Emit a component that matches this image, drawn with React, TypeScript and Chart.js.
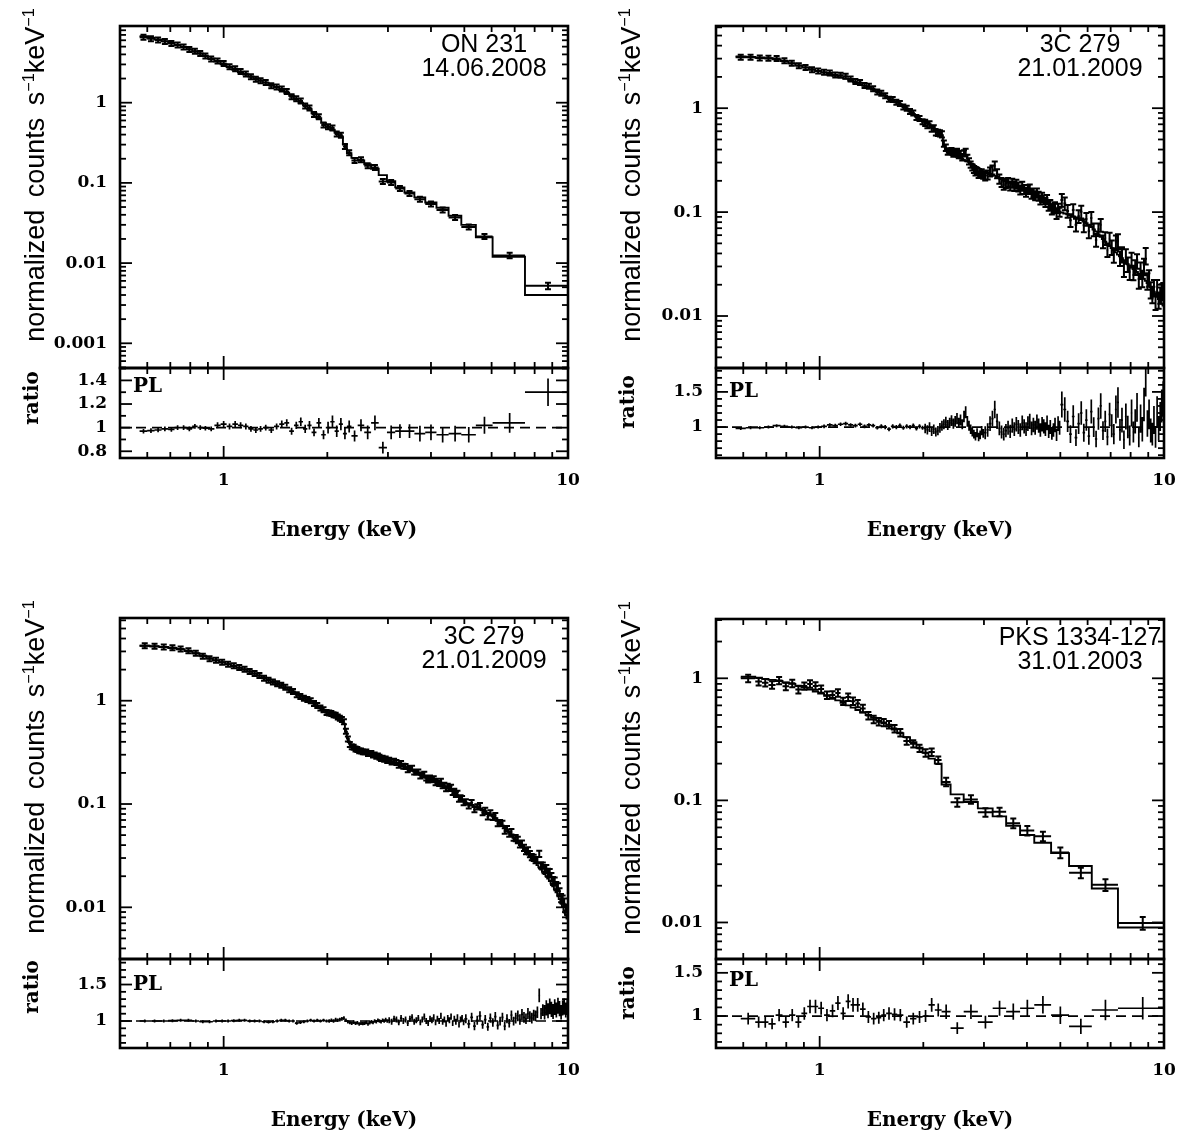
import React, { useEffect, useRef } from "react";
import { Chart, registerables } from "chart.js";

Chart.register(...registerables);

/* ---------------- shared energy axis ---------------- */
const energyMin = 0.5;
const energyMax = 10;
const energyMajorTicks = [1, 10];
const energyTickLabels = ["1", "10"];
const energyMinorTicks = [0.6, 0.7, 0.8, 0.9, 2, 3, 4, 5, 6, 7, 8, 9];

/* ---------------- ON 231, 14.06.2008 ---------------- */
const on231Edges = [0.57, 0.60, 0.63, 0.66, 0.69, 0.72, 0.75, 0.78, 0.81, 0.84, 0.87, 0.90, 0.94, 0.98, 1.02, 1.06, 1.10, 1.14, 1.18, 1.22, 1.26, 1.30, 1.35, 1.40, 1.45, 1.50, 1.55, 1.60, 1.65, 1.70, 1.75, 1.80, 1.86, 1.92, 1.98, 2.04, 2.10, 2.16, 2.22, 2.28, 2.35, 2.45, 2.56, 2.68, 2.82, 2.98, 3.15, 3.35, 3.58, 3.85, 4.15, 4.50, 4.90, 5.40, 6.04, 7.50, 10.0];
const on231Model = [6.75, 6.45, 6.15, 5.85, 5.55, 5.25, 4.95, 4.65, 4.35, 4.10, 3.85, 3.55, 3.25, 3.00, 2.78, 2.57, 2.40, 2.25, 2.12, 2.00, 1.90, 1.78, 1.66, 1.55, 1.44, 1.33, 1.22, 1.10, 1.00, 0.92, 0.84, 0.74, 0.64, 0.56, 0.50, 0.46, 0.42, 0.38, 0.30, 0.235, 0.205, 0.190, 0.170, 0.150, 0.125, 0.105, 0.088, 0.076, 0.066, 0.057, 0.049, 0.039, 0.030, 0.021, 0.012, 0.0040];
const on231Ratio = [0.97, 0.975, 0.98, 0.99, 0.985, 1.0, 1.0, 0.99, 1.01, 1.0, 0.995, 0.99, 1.02, 1.03, 1.01, 1.03, 1.02, 1.01, 0.99, 0.98, 0.99, 1.0, 0.98, 1.01, 1.03, 1.04, 0.97, 1.02, 1.05, 0.99, 1.02, 0.96, 1.04, 0.94, 1.0, 1.05, 0.97, 1.03, 0.95, 1.01, 0.93, 1.02, 0.96, 1.04, 0.83, 0.96, 0.97, 0.97, 0.95, 0.96, 0.94, 0.95, 0.94, 1.02, 1.04, 1.30];
const on231ErrPct = [2, 2, 2, 2, 2, 2, 2, 2, 2, 2, 2, 2, 2.5, 2.5, 2.5, 2.5, 2.5, 2.5, 2.5, 2.5, 2.5, 2.5, 2.5, 2.5, 3, 3, 3, 3, 3.5, 3.5, 3.5, 3.5, 4, 4, 5, 5, 5, 5, 5, 5, 5, 5, 6, 6, 6, 6, 6, 6, 7, 7, 7, 7, 7, 7, 8, 9];
const on231CountTicks = [0.001, 0.01, 0.1, 1];
const on231CountLabels = ["0.001", "0.01", "0.1", "1"];
const on231RatioTicks = [0.8, 1, 1.2, 1.4];
const on231RatioLabels = ["0.8", "1", "1.2", "1.4"];

/* ---------------- 3C 279, 21.01.2009 (two spectra) ---------------- */
const c279Edges = [
  0.57, 0.61, 0.65, 0.69, 0.73, 0.77, 0.81, 0.85, 0.89, 0.93, 0.97, 1.01,
  1.05, 1.09, 1.13, 1.17, 1.21, 1.25, 1.29, 1.33, 1.37, 1.41, 1.45, 1.49, 1.53, 1.57, 1.61, 1.65, 1.69, 1.73, 1.77, 1.81, 1.85, 1.89, 1.93, 1.97, 2.01,
  2.04, 2.07, 2.10, 2.13, 2.16, 2.19, 2.22, 2.25, 2.28, 2.31, 2.34, 2.37, 2.40, 2.43, 2.46, 2.49, 2.52, 2.55, 2.58, 2.61, 2.64, 2.67, 2.70, 2.73, 2.76, 2.79, 2.82, 2.85, 2.88, 2.91, 2.94, 2.97, 3.00,
  3.05, 3.10, 3.15, 3.20, 3.25, 3.30, 3.35, 3.40, 3.45, 3.50, 3.55, 3.60, 3.65, 3.70, 3.75, 3.80, 3.85, 3.90, 3.95, 4.00,
  4.05, 4.10, 4.15, 4.20, 4.25, 4.30, 4.35, 4.40, 4.45, 4.50, 4.55, 4.60, 4.65, 4.70, 4.75, 4.80, 4.85, 4.90, 4.95, 5.00,
  5.1, 5.2, 5.3, 5.4, 5.5, 5.6, 5.7, 5.8, 5.9, 6.0, 6.1, 6.2, 6.3, 6.4, 6.5, 6.6, 6.7, 6.8, 6.9, 7.0,
  7.1, 7.2, 7.3, 7.4, 7.5, 7.6, 7.7, 7.8, 7.9, 8.0, 8.1, 8.2, 8.3, 8.4, 8.5, 8.6, 8.7, 8.8, 8.9, 9.0,
  9.1, 9.2, 9.3, 9.4, 9.5, 9.6, 9.7, 9.8, 9.9, 10.0];

const c279TopModel = [
  3.15, 3.12, 3.08, 3.02, 2.95, 2.84, 2.70, 2.58, 2.47, 2.37, 2.28,
  2.20, 2.12, 2.05, 1.99, 1.93, 1.85, 1.77, 1.70, 1.64, 1.58, 1.51, 1.45, 1.38, 1.32, 1.26, 1.20, 1.14, 1.09, 1.04, 0.99, 0.93, 0.88, 0.83, 0.79, 0.75,
  0.74, 0.72, 0.70, 0.68, 0.66, 0.63, 0.61, 0.58, 0.55, 0.44,
  0.39, 0.372, 0.362, 0.355, 0.350, 0.345, 0.340, 0.335, 0.330, 0.325,
  0.320, 0.314, 0.308, 0.302, 0.296, 0.290, 0.284, 0.278, 0.272, 0.266,
  0.260, 0.254, 0.248,
  0.243, 0.238, 0.233, 0.228, 0.223, 0.218, 0.213, 0.208, 0.203, 0.199,
  0.195, 0.191, 0.187, 0.183, 0.179, 0.175, 0.171, 0.168, 0.164, 0.161,
  0.158, 0.155, 0.152, 0.149, 0.146, 0.143, 0.140, 0.137, 0.134, 0.131,
  0.128, 0.125, 0.122, 0.119, 0.116, 0.113, 0.110, 0.107, 0.104, 0.101,
  0.099, 0.097, 0.095, 0.093, 0.091, 0.089, 0.087, 0.084, 0.081, 0.078,
  0.075, 0.072, 0.068, 0.065, 0.061, 0.058, 0.055, 0.052, 0.050, 0.047,
  0.045, 0.043, 0.041, 0.039, 0.0375, 0.036, 0.0345, 0.033, 0.0315, 0.030,
  0.0292, 0.0283, 0.0274, 0.0265, 0.0256, 0.0247, 0.0238, 0.0228, 0.0218, 0.0208,
  0.0198, 0.0189, 0.0180, 0.0171, 0.0162, 0.0154, 0.0146, 0.0139, 0.0132, 0.0126];
const c279TopRatio = [
  0.98, 0.99, 0.99, 1.0, 1.02, 1.01, 1.0, 0.99, 1.0, 0.99, 1.0,
  1.01, 1.03, 1.02, 1.04, 1.05, 1.03, 1.02, 1.04, 1.01, 1.03, 1.02, 0.99, 1.01, 1.0, 0.97, 1.01, 1.0, 1.02, 0.99, 1.01, 1.0, 1.02, 0.98, 1.01, 0.99,
  0.98, 0.96, 1.0, 0.94, 0.97, 0.93, 0.95, 0.99, 1.02, 1.04,
  1.07, 1.03, 1.06, 1.09, 1.05, 1.08, 1.12, 1.06, 1.10, 1.04,
  1.15, 1.21, 1.08, 1.02, 0.97, 0.93, 0.90, 0.87, 0.92, 0.86,
  0.89, 0.95, 0.91,
  0.92, 0.96, 1.05, 1.12, 1.25, 1.08, 0.98, 0.93, 0.90, 0.95,
  0.99, 0.94, 1.02, 0.97, 1.04, 1.00, 0.96, 1.06, 1.01, 0.97,
  1.05, 1.08, 0.98, 1.03, 0.99, 1.07, 1.02, 0.96, 1.04, 1.01,
  0.97, 1.06, 0.94, 1.00, 0.91, 0.96, 1.03, 0.89, 1.05, 0.99,
  1.32, 1.25, 1.08, 0.90, 1.15, 0.85, 1.05, 1.20, 0.92, 1.10,
  0.87, 1.22, 1.00, 0.83, 1.12, 1.30, 0.95, 1.08, 0.86, 1.18,
  1.02, 0.90, 1.25, 1.35, 0.96, 1.10, 0.82, 1.15, 1.00, 0.88,
  1.20, 0.93, 1.08, 1.28, 0.85, 1.12, 0.97, 1.32, 1.75, 1.05,
  1.18, 0.95, 0.90, 1.10, 0.86, 1.22, 0.98, 1.15, 1.30, 1.40];
const c279TopErrPct = [
  2, 2, 2, 2, 2, 2, 2, 2, 2, 2, 2,
  2.5, 2.5, 2.5, 2.5, 2.5, 2.5, 2.5, 2.5, 2.5, 2.5, 2.5, 2.5, 3, 3, 3, 3, 3, 3, 3, 3, 3, 3, 3, 3, 3,
  7, 7, 7, 7, 7, 7, 7, 7, 7, 7,
  7, 7, 7, 7, 7, 7, 7, 7, 7, 7,
  7, 7, 7, 7, 7, 7, 7, 7, 7, 7,
  7, 7, 7,
  10, 10, 10, 10, 10, 10, 10, 10, 10, 10,
  10, 10, 10, 10, 10, 10, 10, 10, 10, 10,
  10, 10, 10, 10, 10, 10, 10, 10, 10, 10,
  10, 10, 10, 10, 10, 10, 10, 10, 10, 10,
  14, 14, 14, 14, 14, 14, 14, 14, 14, 14,
  14, 14, 14, 14, 14, 14, 14, 14, 14, 14,
  16, 16, 16, 16, 16, 16, 16, 16, 16, 16,
  16, 16, 16, 16, 16, 18, 18, 18, 18, 18,
  18, 18, 18, 18, 18, 18, 18, 18, 18, 18];

const c279BottomModel = [
  3.40, 3.36, 3.31, 3.24, 3.14, 3.02, 2.88, 2.72, 2.58, 2.46, 2.36,
  2.26, 2.17, 2.08, 2.00, 1.92, 1.83, 1.75, 1.67, 1.60, 1.53, 1.46, 1.40, 1.34, 1.28, 1.23, 1.18, 1.12, 1.07, 1.03, 0.99, 0.94, 0.89, 0.85, 0.81, 0.77,
  0.76, 0.745, 0.73, 0.71, 0.69, 0.665, 0.64, 0.60, 0.50, 0.43,
  0.385, 0.37, 0.36, 0.352, 0.346, 0.341, 0.337, 0.333, 0.329, 0.325,
  0.321, 0.316, 0.311, 0.305, 0.299, 0.293, 0.288, 0.283, 0.279, 0.275,
  0.271, 0.267, 0.264,
  0.262, 0.257, 0.252, 0.247, 0.242, 0.237, 0.232, 0.226, 0.221, 0.216,
  0.211, 0.206, 0.201, 0.196, 0.191, 0.187, 0.183, 0.179, 0.176, 0.173,
  0.170, 0.167, 0.164, 0.161, 0.158, 0.155, 0.152, 0.149, 0.146, 0.143,
  0.140, 0.137, 0.133, 0.129, 0.125, 0.121, 0.117, 0.113, 0.109, 0.105,
  0.102, 0.100, 0.098, 0.095, 0.093, 0.090, 0.087, 0.085, 0.082, 0.079,
  0.076, 0.073, 0.069, 0.066, 0.062, 0.059, 0.056, 0.053, 0.050, 0.047,
  0.045, 0.042, 0.040, 0.038, 0.036, 0.034, 0.0325, 0.031, 0.0295, 0.028,
  0.0268, 0.0256, 0.0244, 0.0232, 0.0221, 0.0210, 0.0200, 0.0190, 0.0180, 0.0170,
  0.0160, 0.0150, 0.0140, 0.0130, 0.0120, 0.0110, 0.0101, 0.0093, 0.0085, 0.0078];
const c279BottomRatio = [
  1.0, 1.0, 1.0, 1.005, 1.01, 1.01, 1.0, 0.99, 0.99, 1.0, 1.0,
  1.0, 1.005, 1.01, 1.01, 1.0, 1.0, 1.0, 0.99, 0.985, 0.99, 1.0, 1.01, 1.01, 1.0, 1.0, 0.97, 0.98, 0.99, 1.0, 1.01, 1.0, 1.01, 1.0, 1.01, 1.0,
  1.0, 1.01, 1.0, 1.02, 1.01, 1.02, 1.03, 1.04, 1.01, 0.99,
  0.98, 0.97, 0.985, 0.97, 0.975, 0.96, 0.97, 0.965, 0.97, 0.98,
  0.96, 0.975, 0.99, 0.98, 1.0, 0.99, 1.01, 1.0, 0.99, 1.01,
  1.0, 1.02, 1.0,
  1.01, 0.99, 1.03, 1.02, 0.98, 1.04, 1.0, 1.02, 0.97, 1.03,
  1.05, 0.99, 1.01, 1.04, 0.98, 1.02, 1.06, 1.0, 0.97, 1.03,
  1.01, 1.05, 0.98, 1.03, 1.0, 1.07, 0.99, 1.02, 0.96, 1.04,
  1.01, 1.06, 0.97, 1.03, 0.99, 1.05, 0.95, 1.02, 1.04, 0.98,
  1.03, 0.96, 1.05, 0.93, 1.01, 1.07, 0.95, 1.02, 0.92, 1.04,
  0.98, 1.06, 0.94, 1.0, 1.05, 0.93, 1.03, 0.97, 1.08, 1.0,
  1.04, 1.07, 1.02, 1.09, 1.05, 1.03, 1.10, 1.06, 1.04, 1.08,
  1.07, 1.12, 1.35, 1.10, 1.15, 1.12, 1.18, 1.14, 1.20, 1.16,
  1.13, 1.19, 1.15, 1.21, 1.17, 1.12, 1.18, 1.20, 1.15, 1.19];
const c279BottomErrPct = [
  1, 1, 1, 1, 1, 1, 1, 1, 1, 1, 1,
  1.2, 1.2, 1.2, 1.2, 1.2, 1.2, 1.2, 1.2, 1.2, 1.2, 1.2, 1.2, 1.2, 1.2, 1.2, 1.2, 1.2, 1.2, 1.2, 1.2, 1.2, 1.2, 1.2, 1.2, 1.2,
  2.5, 2.5, 2.5, 2.5, 2.5, 2.5, 2.5, 2.5, 2.5, 2.5,
  2.5, 2.5, 2.5, 2.5, 2.5, 2.5, 2.5, 2.5, 2.5, 2.5,
  2.5, 2.5, 2.5, 2.5, 2.5, 2.5, 2.5, 2.5, 2.5, 2.5,
  2.5, 2.5, 2.5,
  4, 4, 4, 4, 4, 4, 4, 4, 4, 4,
  4, 4, 4, 4, 4, 4, 4, 4, 4, 4,
  4, 4, 4, 4, 4, 4, 4, 4, 4, 4,
  4, 4, 4, 4, 4, 4, 4, 4, 4, 4,
  6, 6, 6, 6, 6, 6, 6, 6, 6, 6,
  6, 6, 6, 6, 6, 6, 6, 6, 6, 6,
  7, 7, 7, 7, 7, 7, 7, 7, 7, 7,
  7, 7, 7, 7, 7, 9, 9, 9, 9, 9,
  9, 9, 9, 9, 9, 9, 9, 9, 9, 9];
const c279CountTicks = [0.01, 0.1, 1];
const c279CountLabels = ["0.01", "0.1", "1"];

/* ---------------- PKS 1334-127, 31.01.2003 ---------------- */
const pksEdges = [0.59, 0.65, 0.68, 0.71, 0.745, 0.78, 0.815, 0.85, 0.885, 0.92, 0.955, 0.99, 1.03, 1.07, 1.11, 1.15, 1.19, 1.23, 1.27, 1.31, 1.36, 1.41, 1.46, 1.51, 1.56, 1.62, 1.68, 1.75, 1.83, 1.91, 1.99, 2.07, 2.16, 2.26, 2.40, 2.62, 2.88, 3.18, 3.48, 3.82, 4.20, 4.70, 5.30, 6.17, 7.35, 10.0];
const pksModel = [1.03, 1.01, 0.99, 0.97, 0.95, 0.925, 0.90, 0.87, 0.84, 0.81, 0.78, 0.75, 0.72, 0.69, 0.66, 0.63, 0.60, 0.575, 0.55, 0.525, 0.50, 0.475, 0.45, 0.43, 0.405, 0.38, 0.355, 0.33, 0.30, 0.27, 0.245, 0.22, 0.20, 0.135, 0.112, 0.097, 0.086, 0.074, 0.062, 0.052, 0.045, 0.037, 0.029, 0.019, 0.0091];
const pksRatio = [0.97, 0.93, 0.93, 0.91, 1.01, 0.93, 1.01, 0.93, 1.03, 1.11, 1.11, 1.09, 1.01, 1.06, 1.15, 1.03, 1.17, 1.13, 1.13, 1.08, 0.99, 0.97, 0.98, 1.01, 1.03, 1.02, 1.01, 0.93, 0.97, 0.99, 1.0, 1.13, 1.07, 1.05, 0.86, 1.05, 0.93, 1.09, 1.05, 1.09, 1.13, 1.01, 0.88, 1.07, 1.09];
const pksErrPct = [7, 7, 7, 7, 7, 7, 7, 7, 7, 7, 7, 7, 7, 7, 7, 7, 7, 7, 7, 7, 7, 7, 7, 7, 7, 7, 7, 7, 7, 7, 7, 7, 7, 8, 8, 8, 8, 8, 9, 9, 9, 10, 10, 11, 12];
const pksCountTicks = [0.01, 0.1, 1];
const pksCountLabels = ["0.01", "0.1", "1"];

const coarseRatioTicks = [1, 1.5];
const coarseRatioLabels = ["1", "1.5"];

/* ---------------- layout / style ---------------- */
const SERIF = "'DejaVu Serif', serif";
const SANS = "'Liberation Sans', Arial, sans-serif";
const LM = 110;
const PAD = 8;
const RM = 24;
const BM = 92;
const MAJOR = 12;
const MINOR = 6;

type Spec = {
  edges: number[]; model: number[]; ratio: number[]; errPct: number[];
  countMin: number; countMax: number; countTicks: number[]; countLabels: string[];
  ratioMin: number; ratioMax: number; ratioTicks: number[]; ratioLabels: string[];
  left: number; right: number; top: number; mid: number; bottom: number;
  name: string; date: string; plDy: number; ratioTitleDy: number;
};

const panels: Spec[] = [
  { edges: on231Edges, model: on231Model, ratio: on231Ratio, errPct: on231ErrPct,
    countMin: 0.000492, countMax: 9.04, countTicks: on231CountTicks, countLabels: on231CountLabels,
    ratioMin: 0.743, ratioMax: 1.505, ratioTicks: on231RatioTicks, ratioLabels: on231RatioLabels,
    left: 120, right: 568, top: 26, mid: 368, bottom: 458, name: "ON 231", date: "14.06.2008", plDy: 17, ratioTitleDy: 30 },
  { edges: c279Edges, model: c279TopModel, ratio: c279TopRatio, errPct: c279TopErrPct,
    countMin: 0.00316, countMax: 6.18, countTicks: c279CountTicks, countLabels: c279CountLabels,
    ratioMin: 0.56, ratioMax: 1.84, ratioTicks: coarseRatioTicks, ratioLabels: coarseRatioLabels,
    left: 716, right: 1164, top: 26, mid: 368, bottom: 458, name: "3C 279", date: "21.01.2009", plDy: 22, ratioTitleDy: 34 },
  { edges: c279Edges, model: c279BottomModel, ratio: c279BottomRatio, errPct: c279BottomErrPct,
    countMin: 0.00316, countMax: 6.32, countTicks: c279CountTicks, countLabels: c279CountLabels,
    ratioMin: 0.63, ratioMax: 1.85, ratioTicks: coarseRatioTicks, ratioLabels: coarseRatioLabels,
    left: 120, right: 568, top: 618, mid: 959, bottom: 1048, name: "3C 279", date: "21.01.2009", plDy: 24, ratioTitleDy: 28 },
  { edges: pksEdges, model: pksModel, ratio: pksRatio, errPct: pksErrPct,
    countMin: 0.00502, countMax: 3.06, countTicks: pksCountTicks, countLabels: pksCountLabels,
    ratioMin: 0.63, ratioMax: 1.66, ratioTicks: coarseRatioTicks, ratioLabels: coarseRatioLabels,
    left: 716, right: 1164, top: 619, mid: 959, bottom: 1048, name: "PKS 1334-127", date: "31.01.2003", plDy: 20, ratioTitleDy: 34 },
];

/* ---------------- helpers ---------------- */
function logMinorTicks(min: number, max: number) {
  const out: number[] = [];
  for (let k = Math.floor(Math.log10(min)); k <= Math.ceil(Math.log10(max)); k++) {
    for (let m = 2; m <= 9; m++) {
      const v = m * Math.pow(10, k);
      if (v > min && v < max) out.push(v);
    }
  }
  return out;
}
function linearMinorTicks(min: number, max: number, majors: number[]) {
  const out: number[] = [];
  for (let t = Math.ceil(min * 10); t <= Math.floor(max * 10); t++) {
    const v = t / 10;
    if (!majors.some((m) => Math.abs(m - v) < 1e-6)) out.push(v);
  }
  return out;
}

function buildSeries(s: Spec) {
  const step: any[] = [];
  const counts: any[] = [];
  const ratios: any[] = [];
  const n = Math.min(s.model.length, s.ratio.length, s.errPct.length, s.edges.length - 1);
  for (let i = 0; i < n; i++) {
    const lo = s.edges[i];
    const hi = s.edges[i + 1];
    const xc = (lo + hi) / 2;
    step.push({ x: lo, y: s.model[i] }, { x: hi, y: s.model[i] });
    const c = s.model[i] * s.ratio[i];
    const e = (c * s.errPct[i]) / 100;
    counts.push({ x: xc, y: c, xlo: lo, xhi: hi, ylo: c - e, yhi: c + e });
    const re = (s.ratio[i] * s.errPct[i]) / 100;
    ratios.push({ x: xc, y: s.ratio[i], xlo: lo, xhi: hi, ylo: s.ratio[i] - re, yhi: s.ratio[i] + re });
  }
  return { step, counts, ratios };
}

function framePlugin(yMajor: number[], yMinor: number[]) {
  return {
    id: "frameTicks",
    afterDraw(chart: any) {
      const { ctx, chartArea: a, scales } = chart;
      const xs = scales.x;
      const ys = scales.y;
      ctx.save();
      ctx.strokeStyle = "#000";
      ctx.lineWidth = 1.8;
      const seg = (x1: number, y1: number, x2: number, y2: number) => {
        ctx.beginPath(); ctx.moveTo(x1, y1); ctx.lineTo(x2, y2); ctx.stroke();
      };
      const xt = (v: number, len: number) => {
        const x = xs.getPixelForValue(v);
        seg(x, a.bottom, x, a.bottom - len);
        seg(x, a.top, x, a.top + len);
      };
      const yt = (v: number, len: number) => {
        const y = ys.getPixelForValue(v);
        seg(a.left, y, a.left + len, y);
        seg(a.right, y, a.right - len, y);
      };
      energyMajorTicks.forEach((v) => xt(v, MAJOR));
      energyMinorTicks.forEach((v) => xt(v, MINOR));
      yMajor.forEach((v) => yt(v, MAJOR));
      yMinor.forEach((v) => yt(v, MINOR));
      ctx.lineWidth = 2.6;
      ctx.strokeRect(a.left, a.top, a.right - a.left, a.bottom - a.top);
      ctx.restore();
    },
  };
}

function errorBarPlugin(cap: number, width: number, minHalf: number) {
  return {
    id: "errorBars",
    afterDatasetsDraw(chart: any) {
      const { ctx, chartArea: a, scales } = chart;
      const xs = scales.x;
      const ys = scales.y;
      ctx.save();
      ctx.beginPath();
      ctx.rect(a.left, a.top, a.right - a.left, a.bottom - a.top);
      ctx.clip();
      ctx.strokeStyle = "#000";
      ctx.lineWidth = width;
      chart.data.datasets.forEach((ds: any) => {
        if (!ds.errorBars) return;
        ctx.beginPath();
        ds.data.forEach((p: any) => {
          const px = xs.getPixelForValue(p.x);
          const py = ys.getPixelForValue(p.y);
          const xl = xs.getPixelForValue(p.xlo);
          const xh = xs.getPixelForValue(p.xhi);
          const yl = Math.max(ys.getPixelForValue(p.ylo), py + minHalf);
          const yh = Math.min(ys.getPixelForValue(p.yhi), py - minHalf);
          ctx.moveTo(xl, py); ctx.lineTo(xh, py);
          ctx.moveTo(px, yl); ctx.lineTo(px, yh);
          if (cap > 0) {
            ctx.moveTo(px - cap, yl); ctx.lineTo(px + cap, yl);
            ctx.moveTo(px - cap, yh); ctx.lineTo(px + cap, yh);
          }
        });
        ctx.stroke();
      });
      ctx.restore();
    },
  };
}

function labelCallback(ticks: number[], labels: string[]) {
  return (v: any) => {
    const i = ticks.findIndex((t) => Math.abs(t - Number(v)) <= Math.abs(t) * 1e-6);
    return i >= 0 ? labels[i] : "";
  };
}

function yAxis(type: string, min: number, max: number, ticks: number[], labels: string[]) {
  return {
    type, min, max,
    grid: { display: false, drawTicks: false },
    border: { display: false },
    ticks: {
      autoSkip: false, padding: 13, color: "#000",
      font: { family: SERIF, size: 17, weight: "bold" },
      callback: labelCallback(ticks, labels),
    },
    afterBuildTicks: (sc: any) => { sc.ticks = ticks.map((v) => ({ value: v })); },
    afterFit: (sc: any) => { sc.width = LM; sc.paddingTop = 0; sc.paddingBottom = 0; },
  };
}

function Panel({ s }: { s: Spec }) {
  const mainRef = useRef<HTMLCanvasElement | null>(null);
  const ratioRef = useRef<HTMLCanvasElement | null>(null);
  const w = s.right - s.left + LM + RM;
  const mainH = s.mid - s.top + 2 * PAD;
  const ratioH = s.bottom - s.mid + PAD + BM;

  useEffect(() => {
    const { step, counts, ratios } = buildSeries(s);
    const mainChart = new Chart(mainRef.current as HTMLCanvasElement, {
      type: "scatter",
      data: {
        datasets: [
          { data: step, showLine: true, borderColor: "#000", borderWidth: 1.9, pointRadius: 0, fill: false, tension: 0 } as any,
          { data: counts, errorBars: true, pointRadius: 0, showLine: false } as any,
        ],
      },
      options: {
        responsive: false, animation: false, devicePixelRatio: 1,
        layout: { padding: { left: 0, top: PAD, right: RM, bottom: PAD } },
        plugins: { legend: { display: false }, tooltip: { enabled: false } },
        scales: {
          x: { type: "logarithmic", min: energyMin, max: energyMax, display: false },
          y: yAxis("logarithmic", s.countMin, s.countMax, s.countTicks, s.countLabels),
        } as any,
      },
      plugins: [errorBarPlugin(3, 2, 2.5), framePlugin(s.countTicks, logMinorTicks(s.countMin, s.countMax))],
    } as any);

    const ratioChart = new Chart(ratioRef.current as HTMLCanvasElement, {
      type: "scatter",
      data: {
        datasets: [
          { data: [{ x: energyMin, y: 1 }, { x: energyMax, y: 1 }], showLine: true, borderColor: "#000", borderWidth: 1.7, borderDash: [10, 6], pointRadius: 0 } as any,
          { data: ratios, errorBars: true, pointRadius: 0, showLine: false } as any,
        ],
      },
      options: {
        responsive: false, animation: false, devicePixelRatio: 1,
        layout: { padding: { left: 0, top: PAD, right: RM, bottom: 0 } },
        plugins: { legend: { display: false }, tooltip: { enabled: false } },
        scales: {
          x: {
            type: "logarithmic", min: energyMin, max: energyMax,
            grid: { display: false, drawTicks: false },
            border: { display: false },
            ticks: {
              autoSkip: false, maxRotation: 0, minRotation: 0, padding: 12, color: "#000",
              font: { family: SERIF, size: 17, weight: "bold" },
              callback: labelCallback(energyMajorTicks, energyTickLabels),
            },
            afterBuildTicks: (sc: any) => { sc.ticks = energyMajorTicks.map((v) => ({ value: v })); },
            title: { display: true, text: "Energy (keV)", color: "#000", font: { family: SERIF, size: 20, weight: "bold" }, padding: { top: 0, bottom: 7 } },
            afterFit: (sc: any) => { sc.height = BM; sc.paddingLeft = 0; sc.paddingRight = 0; },
          },
          y: yAxis("linear", s.ratioMin, s.ratioMax, s.ratioTicks, s.ratioLabels),
        } as any,
      },
      plugins: [errorBarPlugin(0, 1.7, 1.5), framePlugin(s.ratioTicks, linearMinorTicks(s.ratioMin, s.ratioMax, s.ratioTicks))],
    } as any);

    return () => { mainChart.destroy(); ratioChart.destroy(); };
  }, [s]);

  const titleX = s.left - 89;
  return (
    <>
      <canvas ref={mainRef} width={w} height={mainH}
        style={{ position: "absolute", left: s.left - LM, top: s.top - PAD, width: w, height: mainH, display: "block" }} />
      <canvas ref={ratioRef} width={w} height={ratioH}
        style={{ position: "absolute", left: s.left - LM, top: s.mid - PAD, width: w, height: ratioH, display: "block" }} />
      <div style={{ position: "absolute", left: titleX, top: s.top + 149, transform: "translate(-50%,-50%) rotate(-90deg)",
        whiteSpace: "nowrap", font: `27px ${SANS}`, color: "#000", wordSpacing: "5px", lineHeight: "28px" }}>
        normalized counts s<sup style={{ fontSize: "0.6em" }}>−1</sup>keV<sup style={{ fontSize: "0.6em" }}>−1</sup>
      </div>
      <div style={{ position: "absolute", left: titleX, top: s.mid + s.ratioTitleDy, transform: "translate(-50%,-50%) rotate(-90deg)",
        whiteSpace: "nowrap", font: `bold 20px ${SERIF}`, color: "#000", lineHeight: "24px" }}>ratio</div>
      <div style={{ position: "absolute", left: s.left + 13, top: s.mid + s.plDy, transform: "translateY(-50%)",
        whiteSpace: "nowrap", font: `bold 20px ${SERIF}`, color: "#000", lineHeight: "24px" }}>PL</div>
      <div style={{ position: "absolute", left: s.right - 84, top: s.top + 17, transform: "translate(-50%,-50%)",
        whiteSpace: "nowrap", font: `25px ${SANS}`, color: "#000", lineHeight: "26px" }}>{s.name}</div>
      <div style={{ position: "absolute", left: s.right - 84, top: s.top + 41, transform: "translate(-50%,-50%)",
        whiteSpace: "nowrap", font: `25px ${SANS}`, color: "#000", lineHeight: "26px" }}>{s.date}</div>
    </>
  );
}

export default function App() {
  return (
    <div style={{ position: "absolute", left: 0, top: 0, width: 1183, height: 1136, background: "#fff", overflow: "hidden" }}>
      {panels.map((p, i) => <Panel key={i} s={p} />)}
    </div>
  );
}
